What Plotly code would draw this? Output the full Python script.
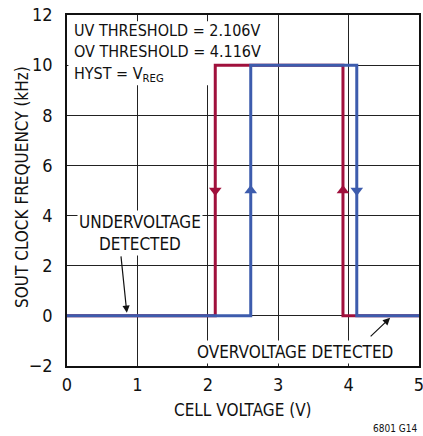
import plotly.graph_objects as go

# Rising cell voltage sweep (blue) and falling sweep (red)
x_rise = [0, 2.61, 2.61, 4.116, 4.116, 5]
y_rise = [0, 0, 10, 10, 0, 0]
x_fall = [5, 3.92, 3.92, 2.106, 2.106, 0]
y_fall = [0, 0, 10, 10, 0, 0]

# direction arrows on the vertical edges
arrow_y = 5
rise_arrow_x = [2.61, 4.116]
rise_arrow_sym = ["triangle-up", "triangle-down"]
fall_arrow_x = [3.92, 2.106]
fall_arrow_sym = ["triangle-up", "triangle-down"]

x_ticks = [0, 1, 2, 3, 4, 5]
y_ticks = [-2, 0, 2, 4, 6, 8, 10, 12]
y_tick_text = ["\u22122", "0", "2", "4", "6", "8", "10", "12"]

RED = "#A0103C"
BLUE = "#3D5CAD"
FONT = "DejaVu Sans Condensed, Roboto, sans-serif"

fig = go.Figure()
fig.add_trace(go.Scatter(x=x_fall, y=y_fall, mode="lines",
                         line=dict(color=RED, width=3), showlegend=False))
fig.add_trace(go.Scatter(x=x_rise, y=y_rise, mode="lines",
                         line=dict(color=BLUE, width=3), showlegend=False))
fig.add_trace(go.Scatter(x=fall_arrow_x, y=[arrow_y] * len(fall_arrow_x), mode="markers",
                         marker=dict(symbol=fall_arrow_sym, size=11, color=RED),
                         showlegend=False))
fig.add_trace(go.Scatter(x=rise_arrow_x, y=[arrow_y] * len(rise_arrow_x), mode="markers",
                         marker=dict(symbol=rise_arrow_sym, size=11, color=BLUE),
                         showlegend=False))

# white mask behind the top-left text (above grid, below traces)
fig.add_shape(type="rect", xref="x", yref="y", x0=0.02, x1=2.52, y0=9.2, y1=11.75,
              fillcolor="white", line=dict(width=0), layer="between")

top = dict(family=FONT, size=16, color="#111")
txt = dict(family=FONT, size=17, color="#111")
tick = dict(family=FONT, size=18, color="#111")
fig.add_annotation(x=0.07, y=11.37, text="UV THRESHOLD = 2.106V", showarrow=False,
                   xanchor="left", yanchor="middle", font=top)
fig.add_annotation(x=0.07, y=10.53, text="OV THRESHOLD = 4.116V", showarrow=False,
                   xanchor="left", yanchor="middle", font=top)
fig.add_annotation(x=0.07, y=9.61, text="HYST = V<sub>REG</sub>", showarrow=False,
                   xanchor="left", yanchor="middle", font=top)

fig.add_annotation(x=1.04, y=3.31, text="UNDERVOLTAGE<br>DETECTED", showarrow=False,
                   xanchor="center", yanchor="middle", font=txt, bgcolor="white",
                   borderpad=1)
fig.add_annotation(x=0.85, y=0.12, text="", showarrow=True, arrowhead=2, arrowsize=1.2,
                   arrowwidth=1.2, arrowcolor="#111", ax=-6, ay=-58)

fig.add_annotation(x=3.24, y=-1.44, text="OVERVOLTAGE DETECTED", showarrow=False,
                   xanchor="center", yanchor="middle", font=txt, bgcolor="white",
                   borderpad=1)
fig.add_annotation(x=4.59, y=-0.08, text="", showarrow=True, arrowhead=2, arrowsize=1.2,
                   arrowwidth=1.2, arrowcolor="#111", ax=-21, ay=20)

# axis titles
fig.add_annotation(xref="paper", yref="paper", x=0.5, y=-0.125, text="CELL VOLTAGE (V)",
                   showarrow=False, xanchor="center", yanchor="middle", font=txt)
fig.add_annotation(xref="paper", yref="paper", x=-0.128, y=0.51,
                   text="SOUT CLOCK FREQUENCY (kHz)", textangle=-90,
                   showarrow=False, xanchor="center", yanchor="middle", font=txt)
fig.add_annotation(xref="paper", yref="paper", x=1.0, y=-0.179, text="6801 G14",
                   showarrow=False, xanchor="right", yanchor="middle",
                   font=dict(family=FONT, size=10, color="#111"))

fig.update_xaxes(range=[0, 5], tickvals=x_ticks, showgrid=True, gridcolor="#222",
                 gridwidth=1, zeroline=False, showline=True, mirror=True,
                 linecolor="#111", linewidth=1.5, ticks="", ticklabelstandoff=2,
                 ticklabeloverflow="allow", automargin=False, tickfont=tick)
fig.update_yaxes(range=[-2, 12], tickvals=y_ticks, ticktext=y_tick_text, showgrid=True,
                 gridcolor="#222", gridwidth=1, zeroline=False, showline=True, mirror=True,
                 linecolor="#111", linewidth=1.5, ticks="", ticklabelstandoff=9,
                 automargin=False, tickfont=tick)

fig.update_layout(width=423, height=436, margin=dict(l=67, r=4, t=15, b=70),
                  paper_bgcolor="white", plot_bgcolor="white",
                  font=dict(family=FONT, color="#111"))

fig.write_html("out.html", config={"displayModeBar": False},
               post_script="document.body.style.margin='0';")
